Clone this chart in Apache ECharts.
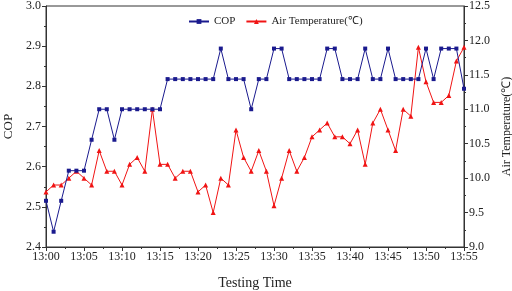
<!DOCTYPE html>
<html>
<head>
<meta charset="utf-8">
<script src="https://cdn.jsdelivr.net/npm/echarts@6/dist/echarts.min.js"></script>
<style>
  html, body { margin: 0; padding: 0; background: #fff; }
  #chart { width: 512px; height: 291px; }
</style>
</head>
<body>
<div id="chart"></div>
<script>
// minutes after 13:00
var minutes = [];
for (var i = 0; i <= 55; i++) minutes.push(i);

var cop = [2.515, 2.438, 2.515, 2.59, 2.59, 2.59, 2.667, 2.743, 2.743, 2.667,
           2.743, 2.743, 2.743, 2.743, 2.743, 2.743, 2.818, 2.818, 2.818, 2.818,
           2.818, 2.818, 2.818, 2.894, 2.818, 2.818, 2.818, 2.743, 2.818, 2.818,
           2.894, 2.894, 2.818, 2.818, 2.818, 2.818, 2.818, 2.894, 2.894, 2.818,
           2.818, 2.818, 2.894, 2.818, 2.818, 2.894, 2.818, 2.818, 2.818, 2.818,
           2.894, 2.818, 2.894, 2.894, 2.894, 2.794];

var airTemp = [9.8, 9.9, 9.9, 10.0, 10.1, 10.0, 9.9, 10.4, 10.1, 10.1,
               9.9, 10.2, 10.3, 10.1, 11.0, 10.2, 10.2, 10.0, 10.1, 10.1,
               9.8, 9.9, 9.5, 10.0, 9.9, 10.7, 10.3, 10.1, 10.4, 10.1,
               9.6, 10.0, 10.4, 10.1, 10.3, 10.6, 10.7, 10.8, 10.6, 10.6,
               10.5, 10.7, 10.2, 10.8, 11.0, 10.7, 10.4, 11.0, 10.9, 11.9,
               11.4, 11.1, 11.1, 11.2, 11.7, 11.9];

var font = 'Liberation Serif';
var axisColor = '#333';

var chart = echarts.init(document.getElementById('chart'));

function pairs(vals) {
    return minutes.map(function (m, i) { return [m, vals[i]]; });
}

var option = {
    animation: false,
    textStyle: { fontFamily: font },
    grid: {
        left: 46, right: 48, top: 6, bottom: 44,
        outerBoundsMode: 'none',
        show: true, borderColor: axisColor, borderWidth: 1
    },
    legend: {
        left: 183, top: 11,
        itemWidth: 20, itemHeight: 6, itemGap: 10,
        textStyle: { fontFamily: font, fontSize: 11, color: '#222' },
        data: ['COP', 'Air Temperature(℃)']
    },
    xAxis: {
        type: 'value',
        min: 0, max: 55, interval: 5,
        name: 'Testing Time',
        nameLocation: 'middle',
        nameGap: 29,
        nameTextStyle: { fontFamily: font, fontSize: 14, color: '#222' },
        axisLine: { lineStyle: { color: axisColor } },
        axisTick: { length: 4, lineStyle: { color: axisColor } },
        minorTick: { show: true, splitNumber: 2, length: 2, lineStyle: { color: axisColor } },
        splitLine: { show: false },
        axisLabel: {
            fontFamily: font, fontSize: 12, color: '#222', margin: 4,
            formatter: function (v) {
                return '13:' + (v < 10 ? '0' + v : v);
            }
        }
    },
    yAxis: [
        {
            type: 'value',
            min: 2.4, max: 3.0, interval: 0.1,
            name: 'COP',
            nameLocation: 'middle',
            nameGap: 27,
            nameRotate: 90,
            nameTextStyle: { fontFamily: font, fontSize: 13, color: '#222' },
            axisLine: { show: true, lineStyle: { color: axisColor } },
            axisTick: { show: true, length: 4, lineStyle: { color: axisColor } },
            minorTick: { show: true, splitNumber: 2, length: 2, lineStyle: { color: axisColor } },
            splitLine: { show: false },
            axisLabel: {
                fontFamily: font, fontSize: 12, color: '#222', margin: 5,
                formatter: function (v) { return v.toFixed(1); }
            }
        },
        {
            type: 'value',
            min: 9.0, max: 12.5, interval: 0.5,
            name: 'Air Temperature(℃)',
            nameLocation: 'middle',
            nameGap: 34,
            nameRotate: 90,
            nameTextStyle: { fontFamily: font, fontSize: 12, color: '#222' },
            axisLine: { show: true, lineStyle: { color: axisColor } },
            axisTick: { show: true, length: 4, lineStyle: { color: axisColor } },
            minorTick: { show: true, splitNumber: 2, length: 2, lineStyle: { color: axisColor } },
            splitLine: { show: false },
            axisLabel: {
                fontFamily: font, fontSize: 12, color: '#222', margin: 5,
                formatter: function (v) { return v.toFixed(1); }
            }
        }
    ],
    series: [
        {
            name: 'COP',
            type: 'line',
            yAxisIndex: 0,
            data: pairs(cop),
            symbol: 'rect',
            symbolSize: 4,
            showAllSymbol: true,
            lineStyle: { color: '#1a1a8e', width: 1 },
            itemStyle: { color: '#1a1a8e' },
            z: 3
        },
        {
            name: 'Air Temperature(℃)',
            type: 'line',
            yAxisIndex: 1,
            data: pairs(airTemp),
            symbol: 'triangle',
            symbolSize: 5,
            showAllSymbol: true,
            lineStyle: { color: '#f01414', width: 1 },
            itemStyle: { color: '#f01414' },
            z: 2
        }
    ]
};

chart.setOption(option);
window.addEventListener('resize', function () {
    chart.resize();
});
</script>
</body>
</html>
